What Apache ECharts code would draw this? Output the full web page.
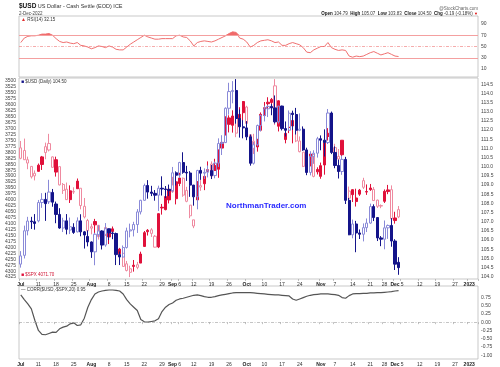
<!DOCTYPE html>
<html><head><meta charset="utf-8">
<script src="https://cdn.jsdelivr.net/npm/echarts@6/dist/echarts.min.js"></script>
<style>html,body{margin:0;padding:0;background:#fff}#c{width:500px;height:367px}</style>
</head><body><div id="c"></div>
<script>
// ---------------- DATA ----------------
const holidays = ['2022-07-04','2022-09-05','2022-11-24','2022-12-26','2023-01-02'];
const tickDates = ['2022-07-01','2022-07-11','2022-07-18','2022-07-25','2022-08-01','2022-08-08','2022-08-15','2022-08-22','2022-08-29','2022-09-01','2022-09-06','2022-09-12','2022-09-19','2022-09-26','2022-10-03','2022-10-10','2022-10-17','2022-10-24','2022-11-01','2022-11-07','2022-11-14','2022-11-21','2022-11-28','2022-12-01','2022-12-05','2022-12-12','2022-12-19','2022-12-27','2023-01-03'];
const tickText  = ['Jul','11','18','25','Aug','8','15','22','29','Sep','6','12','19','26','Oct','10','17','24','Nov','7','14','21','28','Dec','5','12','19','27','2023'];
const boldTicks = ['Jul','Aug','Sep','Oct','Nov','Dec','2023'];

const usdOpen = [104.69,105.17,106.51,107.04,107.00,107.05,108.05,108.22,108.09,108.60,
107.97,107.40,106.66,107.05,106.55,106.70,106.45,107.05,106.45,106.20,
105.90,105.36,106.30,106.50,105.73,106.62,106.39,106.36,105.21,105.08,
105.60,106.50,106.56,106.85,107.54,108.17,108.98,108.62,108.55,108.45,
108.83,108.79,108.76,108.70,109.67,109.54,110.23,109.70,109.66,109.00,
108.36,109.80,109.65,109.70,109.79,109.52,110.20,111.27,111.32,113.19,
114.10,114.16,112.63,112.18,112.12,111.63,110.19,111.20,112.25,112.79,
113.16,113.29,113.21,112.45,113.31,112.08,111.99,112.92,112.85,111.99,
112.05,110.92,109.69,110.57,110.74,111.53,111.45,111.32,112.93,110.78,
110.07,109.74,110.40,108.17,106.29,106.88,106.39,106.32,106.68,106.93,
107.83,107.23,106.12,106.05,106.67,106.80,105.95,104.79];
const usdHigh = [105.40,106.79,107.27,107.27,107.42,108.19,108.56,108.58,109.29,108.79,
108.10,107.74,107.22,107.42,107.23,106.92,107.24,107.41,106.50,106.53,
105.93,106.40,106.81,106.54,106.93,106.63,106.46,106.41,105.38,105.71,
106.68,106.90,107.00,107.69,108.20,109.08,109.27,108.96,108.73,108.97,
109.48,108.95,109.03,109.99,109.75,110.27,110.79,110.05,109.76,109.01,
109.83,110.00,109.91,110.07,110.10,110.28,111.55,111.72,113.24,114.58,
114.67,114.78,113.12,112.54,112.49,111.76,111.35,112.30,112.84,113.33,
113.36,113.42,113.89,113.32,113.33,112.47,113.07,113.06,113.21,112.91,
112.20,111.04,110.85,110.90,111.63,111.71,112.04,113.15,113.01,111.11,
110.39,110.60,110.54,108.30,107.12,107.05,106.58,106.91,107.18,107.99,
107.95,107.25,106.22,107.07,106.85,107.20,106.05,105.07];
const usdLow = [104.50,105.00,106.26,106.61,106.57,106.97,107.76,107.05,107.97,107.82,
106.92,106.62,106.44,106.31,106.33,106.34,106.42,106.21,105.54,105.66,
105.03,104.63,106.16,105.49,105.64,106.00,106.05,104.64,104.64,105.04,
105.54,106.15,106.20,106.39,107.40,108.15,108.26,108.40,108.15,107.59,
108.43,108.29,108.40,108.61,108.98,109.39,109.62,109.23,108.36,107.88,
107.68,109.29,109.33,109.42,109.33,109.37,109.99,110.64,111.29,112.84,
113.46,112.35,111.59,111.55,111.45,110.06,110.12,111.12,111.93,112.47,
112.71,112.81,112.36,112.36,111.98,111.65,111.97,112.01,111.76,111.94,
110.87,109.54,109.53,110.16,110.50,110.90,110.56,111.24,110.69,109.92,
109.36,109.56,107.97,106.27,106.10,105.34,106.06,105.93,106.44,106.89,
107.04,105.95,105.67,105.50,106.07,105.64,104.37,104.11];
const usdClose = [105.14,106.51,107.04,107.00,106.91,108.05,108.22,107.99,108.62,108.07,
107.40,106.66,107.05,106.59,106.73,106.42,107.05,106.45,106.28,105.90,
105.36,106.32,106.50,105.73,106.62,106.39,106.36,105.21,105.08,105.60,
106.50,106.56,106.85,107.54,108.17,108.98,108.62,108.55,108.45,108.83,
108.79,108.76,108.70,109.67,109.54,110.23,109.70,109.66,109.00,108.36,
109.80,109.65,109.70,109.79,109.52,110.20,111.27,111.32,113.19,114.10,
114.16,112.63,112.18,112.12,111.63,110.19,111.20,112.25,112.79,113.16,
113.29,113.21,112.45,113.31,112.08,111.99,112.92,112.85,111.99,112.05,
110.92,109.69,110.57,110.74,111.53,111.45,111.32,112.93,110.78,110.07,
109.74,110.40,108.17,106.29,106.88,106.39,106.32,106.68,106.93,107.83,
107.23,106.12,106.05,106.67,106.80,105.95,104.69,104.50];

const spxOpen = [3781,3792,3831,3859,3888,3880,3851,3776,3763,3819,
3883,3860,3935,3955,3999,3965,3953,3951,4027,4087,
4113,4105,4107,4154,4116,4156,4133,4170,4227,4225,
4269,4290,4280,4273,4266,4196,4134,4126,4153,4198,
4034,4041,4000,3937,3995,3931,3909,3960,4022,4084,
4000,3940,3932,3880,3849,3876,3871,3782,3727,3682,
3686,3651,3687,3633,3609,3726,3753,3777,3707,3645,
3595,3590,3520,3690,3638,3746,3695,3689,3657,3752,
3799,3825,3835,3809,3882,3901,3853,3733,3766,3780,
3817,3810,3859,3963,3978,4007,3976,3919,3967,3957,
3956,4001,4024,4006,3965,3957,4087,4041];
const spxHigh = [3829,3832,3871,3910,3918,3880,3874,3829,3796,3863,
3902,3939,3975,3999,4013,3975,3954,4040,4078,4140,
4145,4141,4167,4161,4152,4186,4137,4211,4258,4281,
4301,4325,4302,4292,4266,4197,4150,4156,4200,4203,
4062,4044,4015,3970,4019,3942,3987,4010,4077,4119,
4000,3962,3959,3880,3900,3877,3907,3790,3727,3716,
3717,3736,3687,3671,3698,3791,3807,3797,3711,3652,
3640,3608,3685,3712,3689,3762,3719,3762,3757,3800,
3862,3887,3859,3905,3893,3911,3894,3750,3796,3813,
3860,3817,3958,4001,4009,4028,3983,3954,3979,3962,
4004,4034,4035,4013,3976,4080,4100,4077];
const spxLow = [3752,3742,3818,3858,3876,3847,3815,3759,3722,3817,
3818,3860,3929,3927,3939,3947,3910,3951,3992,4080,
4100,4080,4107,4135,4107,4128,4112,4167,4202,4219,
4257,4277,4253,4261,4218,4131,4123,4119,4148,4057,
4017,3954,3954,3903,3907,3886,3906,3945,4022,4084,
3921,3912,3888,3838,3838,3827,3789,3750,3648,3644,
3623,3640,3610,3584,3604,3726,3722,3744,3632,3588,
3568,3571,3492,3581,3638,3687,3667,3658,3647,3733,
3799,3824,3803,3809,3863,3843,3759,3698,3720,3764,
3786,3749,3859,3944,3956,3953,3954,3907,3935,3933,
3946,3999,4019,3956,3937,3939,4050,4026];
const spxClose = [3825,3831,3845,3903,3899,3854,3819,3801,3790,3863,
3831,3937,3960,3999,3962,3967,3921,4024,4072,4130,
4119,4091,4155,4152,4145,4140,4122,4210,4207,4280,
4297,4305,4275,4284,4228,4138,4128,4141,4199,4058,
4031,3986,3955,3966,3924,3908,3980,4006,4067,4110,
3932,3946,3901,3873,3900,3856,3790,3758,3693,3655,
3647,3719,3640,3586,3678,3791,3783,3745,3640,3612,
3589,3577,3670,3583,3677,3720,3695,3666,3752,3797,
3859,3831,3807,3901,3872,3856,3760,3720,3771,3807,
3828,3749,3956,3993,3957,3992,3959,3947,3965,3950,
4003,4027,4026,3964,3958,4080,4076,4071.70];

const rsi14 = [57,65,68,69,69,70,72,72,73,70,
64,59,57,58,56,55,57,52,51,49,
46,48,51,50,48,51,49,45,44,44,
49,54,58,62,66,70,67,65,63,63,
64,64,64,64,69,70,67,66,60,51,
57,59,60,59,58,60,63,66,69,73,
76,75,65,63,58,49,52,57,60,61,
62,60,57,58,52,52,55,57,55,53,
48,40,39,44,47,50,50,57,48,45,
43,44,43,33,31,33,32,33,36,39,
41,38,35,37,39,36,33,32.15];
const corr20 = [0.82,0.68,0.55,0.40,0.05,-0.25,-0.37,-0.38,-0.34,-0.30,
-0.31,-0.20,-0.15,-0.12,-0.05,-0.02,-0.10,-0.08,0.12,0.45,
0.68,0.85,0.91,0.94,0.96,0.97,0.97,0.96,0.94,0.85,
0.68,0.55,0.45,0.35,0.08,0.01,0.00,0.02,0.04,0.10,
0.32,0.45,0.53,0.58,0.66,0.70,0.72,0.75,0.78,0.81,
0.82,0.80,0.77,0.75,0.75,0.77,0.80,0.82,0.84,0.86,
0.88,0.89,0.89,0.89,0.89,0.89,0.88,0.87,0.86,0.85,
0.84,0.83,0.82,0.82,0.81,0.80,0.79,0.70,0.66,0.70,
0.74,0.78,0.81,0.83,0.84,0.85,0.85,0.85,0.84,0.83,
0.81,0.74,0.72,0.80,0.85,0.86,0.86,0.87,0.87,0.88,
0.88,0.89,0.89,0.90,0.91,0.92,0.94,0.95];

const spxTicks = [3500,3525,3550,3575,3600,3625,3650,3675,3700,3725,3750,3775,3800,3825,3850,3875,3900,3925,3950,3975,4000,4025,4050,4075,4100,4125,4150,4175,4200,4225,4250,4275,4300,4325];
const usdTicks = [104.0,104.5,105.0,105.5,106.0,106.5,107.0,107.5,108.0,108.5,109.0,109.5,110.0,110.5,111.0,111.5,112.0,112.5,113.0,113.5,114.0,114.5];
const rsiTicks = [10,30,50,70,90];
const corrTicks = [-1,-0.75,-0.5,-0.25,0,0.25,0.5,0.75];

// ---------------- BUILD ----------------
function tradingDays(start, count, hol) {
  const out = []; const d = new Date(start + 'T00:00:00Z');
  while (out.length < count) {
    const wd = d.getUTCDay(); const s = d.toISOString().slice(0, 10);
    if (wd !== 0 && wd !== 6 && hol.indexOf(s) < 0) out.push(s);
    d.setUTCDate(d.getUTCDate() + 1);
  }
  return out;
}
const categories = tradingDays('2022-07-01', 130, holidays);
const usdCandles = usdOpen.map((o, i) => [o, usdClose[i], usdLow[i], usdHigh[i]]);
const spxCandles = spxOpen.map((o, i) => [o, spxClose[i], spxLow[i], spxHigh[i]]);
const rsiBase = rsi14.map(() => 70);
const rsiOver = rsi14.map(v => Math.max(0, v - 70));
const last = usdClose.length - 1;

const FONT = 'Liberation Sans, Arial, sans-serif';
const L = 19, R = 22;
const xLabel = (show) => ({
  show: show, interval: (idx, val) => tickDates.indexOf(val) >= 0,
  formatter: (val) => { const t = tickText[tickDates.indexOf(val)]; return boldTicks.indexOf(t) >= 0 ? '{b|' + t + '}' : t; },
  fontSize: 5, color: '#333', fontFamily: FONT, margin: 3,
  rich: { b: { fontWeight: 'bold', fontSize: 5, color: '#222', fontFamily: FONT } }
});
const xAxisBase = (gi, show) => ({
  type: 'category', gridIndex: gi, data: categories, boundaryGap: true,
  axisLine: { show: false }, splitLine: { show: false },
  axisTick: { show: show, interval: (idx, val) => tickDates.indexOf(val) >= 0, length: 2, lineStyle: { color: '#999', width: 0.6 } },
  axisLabel: xLabel(show)
});
const yLab = (vals, fmt) => ({ customValues: vals, formatter: fmt, fontSize: 5, color: '#444', fontFamily: FONT, margin: 3 });

const option = {
  animation: false,
  backgroundColor: '#fff',
  grid: [
    { left: L, right: R, top: 16, height: 61, show: true, borderColor: '#bbb', borderWidth: 0.8, backgroundColor: '#fff' },
    { left: L, right: R, top: 78, height: 201, show: true, borderColor: '#bbb', borderWidth: 0.8, backgroundColor: 'transparent' },
    { left: L, right: R, top: 286, height: 73, show: true, borderColor: '#bbb', borderWidth: 0.8, backgroundColor: '#fff' }
  ],
  xAxis: [xAxisBase(0, false), xAxisBase(1, true), xAxisBase(2, true)],
  yAxis: [
    { type: 'value', gridIndex: 0, position: 'right', min: -4.2, max: 104.2, splitLine: { show: false }, axisLine: { show: false },
      axisTick: { show: false }, axisLabel: yLab(rsiTicks, v => String(v)) },
    { type: 'value', gridIndex: 1, position: 'right', min: 103.88, max: 114.84, splitLine: { show: false }, axisLine: { show: false },
      axisTick: { show: false }, axisLabel: yLab(usdTicks, v => v.toFixed(1)) },
    { type: 'value', gridIndex: 1, position: 'left', inverse: true, min: 3487, max: 4333, splitLine: { show: false }, axisLine: { show: false },
      axisTick: { show: false }, axisLabel: yLab(spxTicks, v => String(v)) },
    { type: 'value', gridIndex: 2, position: 'right', min: -1.11, max: 1.09, splitLine: { show: false }, axisLine: { show: false },
      axisTick: { show: false }, axisLabel: yLab(corrTicks, v => v.toFixed(2)) }
  ],
  series: [
    { type: 'line', xAxisIndex: 0, yAxisIndex: 0, data: rsiBase, stack: 'ob', symbol: 'none', lineStyle: { opacity: 0 }, silent: true },
    { type: 'line', xAxisIndex: 0, yAxisIndex: 0, data: rsiOver, stack: 'ob', symbol: 'none', lineStyle: { opacity: 0 },
      areaStyle: { color: '#ef5a5a', opacity: 0.9 }, silent: true },
    { type: 'line', xAxisIndex: 0, yAxisIndex: 0, data: rsi14, symbol: 'none', lineStyle: { color: '#f07070', width: 1 },
      markLine: { silent: true, symbol: 'none', data: [
        { yAxis: 70, lineStyle: { color: '#f4a0a0', width: 1.2, type: 'solid' }, label: { show: false } },
        { yAxis: 30, lineStyle: { color: '#f4a0a0', width: 1.2, type: 'solid' }, label: { show: false } },
        { yAxis: 50, lineStyle: { color: '#f08888', width: 0.7, type: [3, 1.5, 1, 1.5] }, label: { show: false } },
        { yAxis: rsi14[last], lineStyle: { opacity: 0 }, label: { show: true, position: 'end', formatter: rsi14[last].toFixed(2), fontSize: 5, color: '#333',
          backgroundColor: '#fff', borderColor: '#f07070', borderWidth: 0.6, padding: [1, 2], distance: 2, fontFamily: FONT } }
      ] } },
    { type: 'candlestick', xAxisIndex: 1, yAxisIndex: 2, data: spxCandles, barWidth: 2.7,
      itemStyle: { color: 'rgba(255,255,255,0)', borderColor: '#ef8aa0', color0: '#e0103a', borderColor0: '#e0103a', borderWidth: 1 },
      markLine: { silent: true, symbol: 'none', data: [
        { yAxis: spxClose[last], lineStyle: { opacity: 0 }, label: { show: true, position: 'end', formatter: spxClose[last].toFixed(2), fontSize: 5, color: '#c01030',
          backgroundColor: '#fbd0da', borderColor: '#ef8aa0', borderWidth: 0.6, padding: [1, 2], distance: 2, fontFamily: FONT } }
      ] } },
    { type: 'candlestick', xAxisIndex: 1, yAxisIndex: 1, data: usdCandles, barWidth: 2.7,
      itemStyle: { color: 'rgba(255,255,255,0)', borderColor: '#8a8ad8', color0: '#14148a', borderColor0: '#14148a', borderWidth: 1 },
      markLine: { silent: true, symbol: 'none', data: [
        { yAxis: usdClose[last], lineStyle: { opacity: 0 }, label: { show: true, position: 'end', formatter: usdClose[last].toFixed(2), fontSize: 5, color: '#14148a',
          backgroundColor: '#d8d8f8', borderColor: '#8a8ad8', borderWidth: 0.6, padding: [1, 2], distance: 2, fontFamily: FONT } }
      ] } },
    { type: 'line', xAxisIndex: 2, yAxisIndex: 3, data: corr20, symbol: 'none', lineStyle: { color: '#555', width: 1.2 },
      markLine: { silent: true, symbol: 'none', data: [
        { yAxis: 0, lineStyle: { color: '#aaa', width: 0.7, type: [3, 1.5, 1, 1.5] }, label: { show: false } },
        { yAxis: corr20[last], lineStyle: { opacity: 0 }, label: { show: true, position: 'end', formatter: corr20[last].toFixed(2), fontSize: 5, color: '#222',
          backgroundColor: '#e4e4e4', borderColor: '#999', borderWidth: 0.6, padding: [1, 2], distance: 2, fontFamily: FONT } }
      ] } }
  ],
  graphic: [
    { type: 'text', left: 19, top: 3, style: { text: '{b|$USD} US Dollar - Cash Settle (EOD) ICE', font: '5.5px ' + FONT, fill: '#333',
      rich: { b: { fontWeight: 'bold', fontSize: 6.5, fill: '#111', fontFamily: FONT } } } },
    { type: 'text', left: 19, top: 11, style: { text: '2-Dec-2022', font: '4.5px ' + FONT, fill: '#444' } },
    { type: 'text', right: 22, top: 6, style: { text: '@StockCharts.com', font: '4.5px ' + FONT, fill: '#666' } },
    { type: 'text', right: 22, top: 11.5, style: { text: '{b|Open} 104.79  {b|High} 105.07  {b|Low} 103.83  {b|Close} 104.50  {b|Chg} -0.19 (-0.18%) {r|▼}',
      font: '4.5px ' + FONT, fill: '#333', rich: { b: { fontWeight: 'bold', fontSize: 4.5, fill: '#111' }, r: { fontSize: 4, fill: '#d00' } } } },
    { type: 'text', left: 21, top: 17.5, style: { text: '{r|▲} RSI(14) 32.15', font: '4.5px ' + FONT, fill: '#333', rich: { r: { fill: '#e03030', fontSize: 5 } } } },
    { type: 'text', left: 21, top: 79.5, style: { text: '{r|■} $USD (Daily) 104.50', font: '4.5px ' + FONT, fill: '#333', rich: { r: { fill: '#14148a', fontSize: 5 } } } },
    { type: 'text', left: 21, top: 272.5, style: { text: '{r|■} $SPX 4071.70', font: '4.5px ' + FONT, fill: '#d01030', rich: { r: { fill: '#e0103a', fontSize: 5 } } } },
    { type: 'text', left: 21, top: 287.5, style: { text: '— CORR($USD,-$SPX,20) 0.95', font: '4.5px ' + FONT, fill: '#333' } },
    { type: 'text', left: 226, top: 202, style: { text: 'NorthmanTrader.com', font: 'bold 8px ' + FONT, fill: '#2b2bff' } }
  ]
};
echarts.init(document.getElementById('c'), null, { renderer: 'canvas' }).setOption(option);
</script>
</body></html>
